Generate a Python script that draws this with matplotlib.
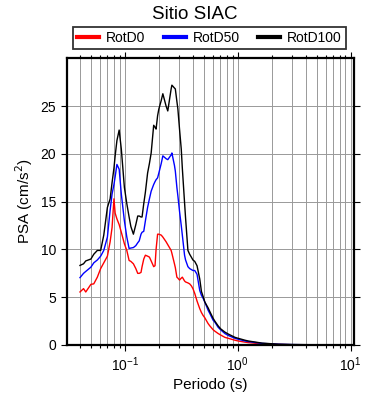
import numpy as np
import matplotlib.pyplot as plt
plt.rcParams['font.family'] = ['Liberation Sans', 'DejaVu Sans']

# periodos (s)
T = [0.040, 0.043, 0.045, 0.050, 0.053, 0.057, 0.061, 0.065, 0.070, 0.074,
     0.077, 0.080, 0.082, 0.085, 0.089, 0.093, 0.099, 0.104, 0.109, 0.113,
     0.119, 0.125, 0.130, 0.134, 0.139, 0.142, 0.147, 0.152, 0.159, 0.165,
     0.171, 0.180, 0.185, 0.189, 0.195, 0.200, 0.210, 0.217, 0.232, 0.240,
     0.257, 0.261, 0.275, 0.280, 0.289, 0.295, 0.305, 0.316, 0.323, 0.338,
     0.345, 0.362, 0.375, 0.388, 0.401, 0.416, 0.436, 0.461, 0.477, 0.493,
     0.511, 0.546, 0.566, 0.605, 0.627, 0.671, 0.705, 0.770, 0.824, 0.946,
     1.01, 1.16, 1.24, 1.64, 2.3, 3.0, 4.0, 5.0, 7.0, 10.0]

rotd0 = [5.55, 5.9, 5.55, 6.35, 6.4, 7.1, 8.0, 8.6, 9.3, 10.8,
         12.3, 15.3, 13.8, 13.2, 12.6, 11.8, 10.6, 9.9, 8.85, 8.75,
         8.5, 8.0, 7.5, 7.5, 7.6, 8.2, 9.0, 9.4, 9.3, 9.2,
         8.8, 8.2, 8.3, 10.0, 11.6, 11.6, 11.5, 11.3, 10.8, 10.5,
         9.9, 9.6, 8.5, 8.1, 7.1, 7.0, 6.8, 7.0, 7.1, 6.7,
         6.6, 6.5, 6.4, 6.2, 5.9, 5.4, 4.6, 3.8, 3.4, 3.1,
         2.85, 2.25, 2.0, 1.6, 1.45, 1.2, 1.05, 0.8, 0.7, 0.5,
         0.42, 0.3, 0.25, 0.12, 0.06, 0.03, 0.02, 0.015, 0.01, 0.005]

rotd50 = [7.05, 7.5, 7.7, 8.15, 8.6, 8.9, 9.3, 9.9, 11.3, 14.1,
          15.8, 16.8, 17.6, 18.9, 18.4, 15.8, 13.0, 11.3, 10.1, 10.15,
          10.2, 10.4, 10.7, 10.9, 11.6, 11.8, 11.9, 13.0, 14.4, 15.3,
          16.1, 16.8, 17.1, 17.3, 17.5, 18.0, 19.0, 19.8, 19.5, 19.4,
          19.9, 20.1, 18.8, 18.2, 16.5, 15.6, 14.0, 12.5, 11.5, 9.4,
          8.9, 8.2, 8.0, 7.9, 7.8, 7.8, 7.4, 5.7, 5.2, 4.9,
          4.5, 3.65, 3.3, 2.6, 2.4, 1.85, 1.6, 1.2, 1.0, 0.7,
          0.6, 0.42, 0.36, 0.17, 0.08, 0.045, 0.03, 0.02, 0.012, 0.007]

rotd100 = [8.33, 8.5, 8.8, 9.0, 9.5, 9.9, 9.9, 11.5, 14.4, 15.3,
           17.0, 18.5, 19.8, 21.4, 22.5, 20.5, 16.5, 14.8, 13.4, 12.4,
           11.6, 12.6, 13.5, 13.5, 13.4, 13.4, 14.8, 16.0, 18.0, 19.0,
           20.1, 23.0, 22.8, 22.6, 24.0, 24.7, 25.6, 26.3, 25.0, 24.5,
           26.8, 27.2, 26.9, 26.8, 25.5, 24.7, 22.6, 20.5, 18.5, 14.9,
           13.3, 9.9, 9.5, 9.2, 8.9, 8.75, 8.3, 6.9, 5.6, 5.1,
           4.5, 3.9, 3.5, 2.8, 2.5, 2.0, 1.7, 1.35, 1.15, 0.8,
           0.7, 0.5, 0.42, 0.2, 0.08, 0.05, 0.035, 0.025, 0.015, 0.008]

fig = plt.figure(figsize=(3.9, 4.0), dpi=100)
ax = fig.add_axes([0.171, 0.1375, 0.7375, 0.7165])

ax.plot(T, rotd0, color='#ff0000', lw=1.0, label='RotD0')
ax.plot(T, rotd50, color='#0000ff', lw=1.0, label='RotD50')
ax.plot(T, rotd100, color='black', lw=1.0, label='RotD100')

ax.set_xscale('log')
ax.set_xlim(0.0305, 10.8)
ax.set_ylim(0, 30)
ax.set_yticks([0, 5, 10, 15, 20, 25])

ax.grid(True, which='both', axis='x', color='#999999', lw=0.7)
ax.grid(True, which='major', axis='y', color='#999999', lw=0.7)
ax.set_axisbelow(True)

ax.tick_params(which='both', direction='out', top=True, right=True,
               labelsize=10, width=0.8)
ax.tick_params(which='major', length=4)
ax.tick_params(which='minor', length=2.5)
for s in ax.spines.values():
    s.set_linewidth(1.6)

ax.set_xlabel('Periodo (s)', fontsize=11, labelpad=3)
ax.set_ylabel('PSA (cm/s$^2$)', fontsize=11, labelpad=4)
fig.text(0.5, 0.963, 'Sitio SIAC', ha='center', va='center', fontsize=13.5)

leg = ax.legend(loc='lower left', bbox_to_anchor=(0.022, 1.032, 0.949, 0.074),
                mode='expand', ncol=3, fontsize=10, frameon=True, fancybox=False,
                edgecolor='black', handlelength=1.6, handletextpad=0.5,
                borderpad=0.3, borderaxespad=0)
leg.get_frame().set_linewidth(1.3)
for line in leg.get_lines():
    line.set_linewidth(3)

plt.savefig('out.png', dpi=100)
